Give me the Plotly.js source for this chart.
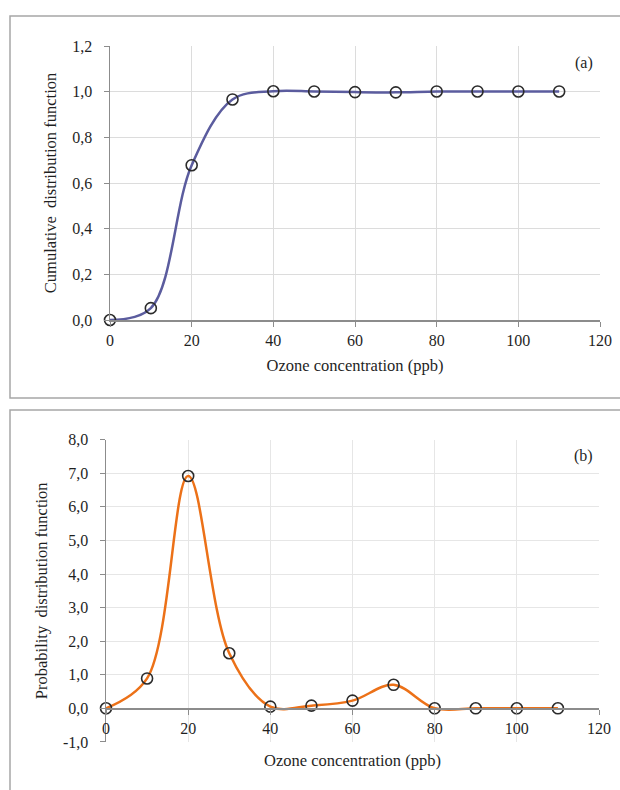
<!DOCTYPE html>
<html>
<head>
<meta charset="utf-8">
<script src="https://cdn.plot.ly/plotly-3.0.1.min.js"></script>
<style>html,body{margin:0;padding:0;background:#fff;}#chart{width:620px;height:790px;}</style>
</head>
<body>
<div id="chart"></div>
<script>
// Data
const ozone = [0, 10, 20, 30, 40, 50, 60, 70, 80, 90, 100, 110];
const cdfValues = [0.0, 0.052, 0.678, 0.966, 1.002, 1.001, 0.998, 0.997, 1.001, 1.001, 1.001, 1.001];
const pdfValues = [0.0, 0.89, 6.92, 1.64, 0.05, 0.08, 0.23, 0.7, 0.0, 0.0, 0.0, 0.0];
const xTickVals = [0, 20, 40, 60, 80, 100, 120];
const cdfTickVals = [0, 0.2, 0.4, 0.6, 0.8, 1.0, 1.2];
const cdfTickText = ["0,0", "0,2", "0,4", "0,6", "0,8", "1,0", "1,2"];
const pdfTickVals = [-1, 0, 1, 2, 3, 4, 5, 6, 7, 8];
const pdfTickText = ["-1,0", "0,0", "1,0", "2,0", "3,0", "4,0", "5,0", "6,0", "7,0", "8,0"];
const xTitle = "Ozone concentration (ppb)";
const cdfTitle = "Cumulative  distribution function";
const pdfTitle = "Probability  distribution function";

const W = 620, H = 790;
const px = v => v / W;
const py = v => 1 - v / H;
const FONT = "Liberation Serif, Times New Roman, serif";
const TXT = "#1f1f1f";
const AX = "#8c8c8c";
const GRID = "#dcdcdc";

const pdfRange = [-1, 8];
const pdfDom = [py(741.9), py(439.7)];
const zeroPos = pdfDom[0] + (0 - pdfRange[0]) / (pdfRange[1] - pdfRange[0]) * (pdfDom[1] - pdfDom[0]);

const traces = [
  {x: ozone, y: cdfValues, xaxis: 'x', yaxis: 'y', mode: 'lines', line: {shape: 'spline', smoothing: 1, color: '#5B5C9E', width: 2.5}, hoverinfo: 'skip'},
  {x: ozone, y: cdfValues, xaxis: 'x', yaxis: 'y', mode: 'markers', cliponaxis: false, marker: {symbol: 'circle-open', size: 11, color: '#2b2b2b', line: {width: 1.6}}},
  {x: ozone, y: pdfValues, xaxis: 'x2', yaxis: 'y2', mode: 'lines', line: {shape: 'spline', smoothing: 1, color: '#EC7118', width: 2.5}, hoverinfo: 'skip'},
  {x: ozone, y: pdfValues, xaxis: 'x2', yaxis: 'y2', mode: 'markers', cliponaxis: false, marker: {symbol: 'circle-open', size: 11, color: '#2b2b2b', line: {width: 1.6}}}
];

const tickFont = {family: FONT, size: 16, color: TXT};
const titleFont = {family: FONT, size: 16.5, color: TXT};

const layout = {
  width: W, height: H,
  margin: {l: 0, r: 0, t: 0, b: 0},
  paper_bgcolor: '#fff', plot_bgcolor: '#fff',
  showlegend: false,
  font: {family: FONT, color: TXT},
  xaxis: {
    domain: [px(110), px(600)], anchor: 'y', range: [0, 120], tickvals: xTickVals,
    showgrid: true, gridcolor: GRID, gridwidth: 1, zeroline: false,
    showline: true, linecolor: AX, linewidth: 1.5, ticks: 'outside', ticklen: 5, tickcolor: AX,
    tickfont: tickFont, title: {text: xTitle, font: titleFont, standoff: 11}
  },
  yaxis: {
    domain: [py(320), py(46)], anchor: 'x', range: [0, 1.2], tickvals: cdfTickVals, ticktext: cdfTickText,
    showgrid: true, gridcolor: GRID, gridwidth: 1, zeroline: false,
    showline: true, linecolor: AX, linewidth: 1.5, ticks: 'outside', ticklen: 5, tickcolor: AX,
    ticklabelstandoff: 8,
    tickfont: tickFont, title: {text: cdfTitle, font: titleFont, standoff: 11}
  },
  xaxis2: {
    domain: [px(106), px(599)], anchor: 'free', position: zeroPos, range: [0, 120], tickvals: xTickVals,
    showgrid: true, gridcolor: '#e6e6e6', gridwidth: 1, zeroline: false,
    showline: true, linecolor: AX, linewidth: 1.5, ticks: 'outside', ticklen: 5, tickcolor: AX,
    tickfont: tickFont, title: {text: xTitle, font: titleFont, standoff: 18}
  },
  yaxis2: {
    domain: pdfDom, anchor: 'x2', range: pdfRange, tickvals: pdfTickVals, ticktext: pdfTickText,
    showgrid: true, gridcolor: '#e6e6e6', gridwidth: 1, zeroline: false,
    showline: true, linecolor: AX, linewidth: 1.5, ticks: 'outside', ticklen: 5, tickcolor: AX,
    ticklabelstandoff: 8,
    tickfont: tickFont, title: {text: pdfTitle, font: titleFont, standoff: 11}
  },
  shapes: [
    {type: 'rect', xref: 'paper', yref: 'paper', x0: px(10), x1: 1.05, y0: py(398), y1: py(16), line: {color: '#a6a6a6', width: 1.5}, fillcolor: 'rgba(0,0,0,0)', layer: 'below'},
    {type: 'rect', xref: 'paper', yref: 'paper', x0: px(10), x1: 1.05, y0: -0.05, y1: py(410), line: {color: '#a6a6a6', width: 1.5}, fillcolor: 'rgba(0,0,0,0)', layer: 'below'}
  ],
  annotations: [
    {text: '(a)', xref: 'paper', yref: 'paper', x: px(584), y: py(63), xanchor: 'center', yanchor: 'middle', showarrow: false, font: {family: FONT, size: 16, color: TXT}},
    {text: '(b)', xref: 'paper', yref: 'paper', x: px(583), y: py(456), xanchor: 'center', yanchor: 'middle', showarrow: false, font: {family: FONT, size: 16, color: TXT}}
  ]
};

Plotly.newPlot('chart', traces, layout, {staticPlot: true, displayModeBar: false});
</script>
</body>
</html>
